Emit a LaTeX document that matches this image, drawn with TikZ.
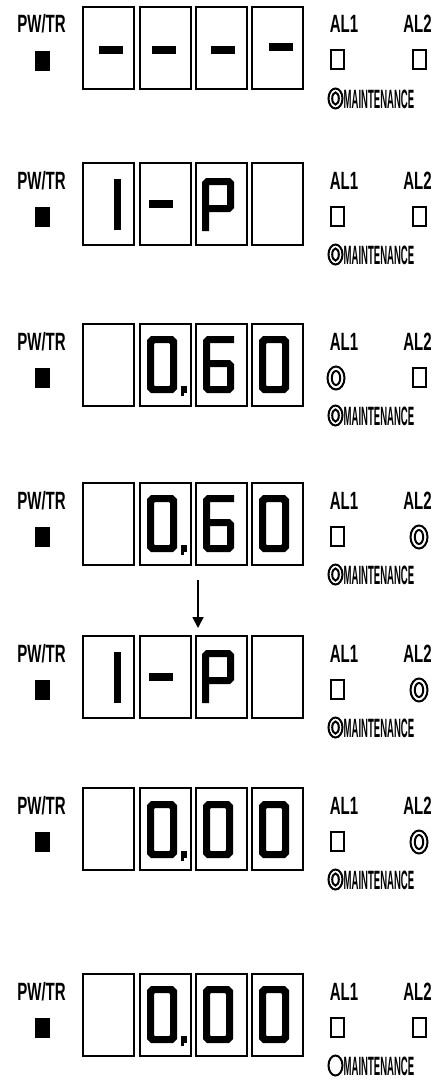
\documentclass[tikz,border=0pt]{standalone}
\usepackage{fontspec}
\usetikzlibrary{arrows.meta}
\newfontfamily\lblfont[FakeStretch=0.6]{Liberation Sans Bold}
\newfontfamily\mntfont[FakeStretch=0.36]{Liberation Sans Bold}

\tikzset{
  lbl/.style={font=\lblfont\fontsize{25}{25}\selectfont, inner sep=0pt, anchor=base},
  mnt/.style={font=\mntfont\fontsize{26.5}{26.5}\selectfont, inner sep=0pt, anchor=base west},
  digitbox/.style={draw, line width=2.5pt, minimum width=51pt, minimum height=82pt,
                   inner sep=0pt, outer sep=0pt, anchor=north west},
  pwled/.style={fill=black, minimum width=15pt, minimum height=20pt, inner sep=0pt},
  lampline/.style={line width=2pt},
  % fixed parts of one display panel, origin at the top of the digit row
  frame/.pic={
    \coordinate (-o) at (0,0);
    \node[lbl] (-pw) at (41.5,26) {PW/TR};
    \node[pwled] (-led) at (42.5,54) {};
    \node[digitbox] (-d1) at (83,0) {};
    \node[digitbox] (-d2) at (140,0) {};
    \node[digitbox] (-d3) at (196,0) {};
    \node[digitbox] (-d4) at (252,0) {};
    \node[lbl] (-al1) at (344,26) {AL1};
    \node[lbl] (-al2) at (417.5,26) {AL2};
    \node[mnt] (-mt) at (343.5,101) {MAINTENANCE};
  },
  % lamp states
  lampoff/.pic={\draw[lampline] (-6.5,-9.5) rectangle (6.5,9.5);},
  lampon/.pic={\draw[lampline] (0,0) ellipse [x radius=8.5, y radius=11.5];
               \draw[lampline] (0,0) ellipse [x radius=4.2, y radius=7];},
  mnton/.pic={\draw[lampline] (0,0) ellipse [x radius=7, y radius=10];
              \draw[lampline] (0,0) ellipse [x radius=3.3, y radius=6];},
  mntoff/.pic={\draw[lampline] (0,0) ellipse [x radius=7, y radius=10];},
  % digit glyphs, origin at the glyph's top left corner
  dashglyph/.pic={\fill (0,0) rectangle (24,8);},
  eyeglyph/.pic={\fill (0,0) rectangle (7,51);},
  peeglyph/.pic={\fill[even odd rule] (0,4) -- (4,0) -- (28,0) -- (32,4) -- (32,30) -- (28,34)
                   -- (7,34) -- (7,53) -- (0,53) -- cycle
                   (7,7) -- (25,7) -- (25,27) -- (7,27) -- cycle;},
  zeroglyph/.pic={\fill[even odd rule] (4,0) -- (26,0) -- (30,4) -- (30,53) -- (26,57) -- (4,57)
                   -- (0,53) -- (0,4) -- cycle
                   (8,7) -- (22,7) -- (23,8) -- (23,49) -- (22,50) -- (8,50) -- (7,49) -- (7,8) -- cycle;},
  sixglyph/.pic={\fill[even odd rule] (4,0) -- (31,0) -- (31,7) -- (7,7) -- (7,24) -- (27,24)
                   -- (31,28) -- (31,53) -- (27,57) -- (4,57) -- (0,53) -- (0,4) -- cycle
                   (7,31) -- (24,31) -- (24,50) -- (7,50) -- cycle;},
  dotglyph/.pic={\fill (0,0) rectangle (6,7); \fill (0,7) rectangle (3,10);},
}

\begin{document}
\begin{tikzpicture}[x=1pt, y=-1pt]
\useasboundingbox (0,0) rectangle (443,1081);

% 1: ----
\pic (p1) at (0,7) {frame};
\pic at ([shift={(16,39)}]p1-d1.north west) {dashglyph};
\pic at ([shift={(12,39)}]p1-d2.north west) {dashglyph};
\pic at ([shift={(15,39)}]p1-d3.north west) {dashglyph};
\pic at ([shift={(17,36)}]p1-d4.north west) {dashglyph};
\pic at ([shift={(337,53)}]p1-o) {lampoff};
\pic at ([shift={(419,53)}]p1-o) {lampoff};
\pic at ([shift={(335.5,91.5)}]p1-o) {mnton};

% 2: I-P
\pic (p2) at (0,163) {frame};
\pic at ([shift={(31,16)}]p2-d1.north west) {eyeglyph};
\pic at ([shift={(9,37)}]p2-d2.north west) {dashglyph};
\pic at ([shift={(6,15)}]p2-d3.north west) {peeglyph};
\pic at ([shift={(337,53)}]p2-o) {lampoff};
\pic at ([shift={(419,53)}]p2-o) {lampoff};
\pic at ([shift={(335.5,91.5)}]p2-o) {mnton};

% 3: 0.60, AL1 on
\pic (p3) at (0,324) {frame};
\pic at ([shift={(7,12)}]p3-d2.north west) {zeroglyph};
\pic at ([shift={(41,62)}]p3-d2.north west) {dotglyph};
\pic at ([shift={(7,12)}]p3-d3.north west) {sixglyph};
\pic at ([shift={(7,12)}]p3-d4.north west) {zeroglyph};
\pic at ([shift={(336,54)}]p3-o) {lampon};
\pic at ([shift={(419,53)}]p3-o) {lampoff};
\pic at ([shift={(335.5,91.5)}]p3-o) {mnton};

% 4: 0.60, AL2 on
\pic (p4) at (0,483) {frame};
\pic at ([shift={(7,12)}]p4-d2.north west) {zeroglyph};
\pic at ([shift={(41,62)}]p4-d2.north west) {dotglyph};
\pic at ([shift={(7,12)}]p4-d3.north west) {sixglyph};
\pic at ([shift={(7,12)}]p4-d4.north west) {zeroglyph};
\pic at ([shift={(337,53)}]p4-o) {lampoff};
\pic at ([shift={(419,54)}]p4-o) {lampon};
\pic at ([shift={(335.5,91.5)}]p4-o) {mnton};

% 5: I-P, AL2 on
\pic (p5) at (0,636) {frame};
\pic at ([shift={(31,16)}]p5-d1.north west) {eyeglyph};
\pic at ([shift={(9,37)}]p5-d2.north west) {dashglyph};
\pic at ([shift={(6,14)}]p5-d3.north west) {peeglyph};
\pic at ([shift={(337,53)}]p5-o) {lampoff};
\pic at ([shift={(419,54)}]p5-o) {lampon};
\pic at ([shift={(335.5,91.5)}]p5-o) {mnton};

% transition arrow between panels 4 and 5
\coordinate (arrS) at ([shift={(2,15)}]p4-d3.south west);
\coordinate (arrE) at ([shift={(2,-8)}]p5-d3.north west);
\draw[line width=1.8pt, -{Triangle[length=11pt, width=11pt]}] (arrS) -- (arrE);

% 6: 0.00, AL2 on
\pic (p6) at (0,788) {frame};
\pic at ([shift={(7,13)}]p6-d2.north west) {zeroglyph};
\pic at ([shift={(41,63)}]p6-d2.north west) {dotglyph};
\pic at ([shift={(7,13)}]p6-d3.north west) {zeroglyph};
\pic at ([shift={(7,13)}]p6-d4.north west) {zeroglyph};
\pic at ([shift={(337,53)}]p6-o) {lampoff};
\pic at ([shift={(419,54)}]p6-o) {lampon};
\pic at ([shift={(335.5,91.5)}]p6-o) {mnton};

% 7: 0.00, all lamps off
\pic (p7) at (0,974) {frame};
\pic at ([shift={(7,12)}]p7-d2.north west) {zeroglyph};
\pic at ([shift={(41,62)}]p7-d2.north west) {dotglyph};
\pic at ([shift={(7,12)}]p7-d3.north west) {zeroglyph};
\pic at ([shift={(7,12)}]p7-d4.north west) {zeroglyph};
\pic at ([shift={(337,53)}]p7-o) {lampoff};
\pic at ([shift={(419,53)}]p7-o) {lampoff};
\pic at ([shift={(335.5,91.5)}]p7-o) {mntoff};
\end{tikzpicture}
\end{document}
